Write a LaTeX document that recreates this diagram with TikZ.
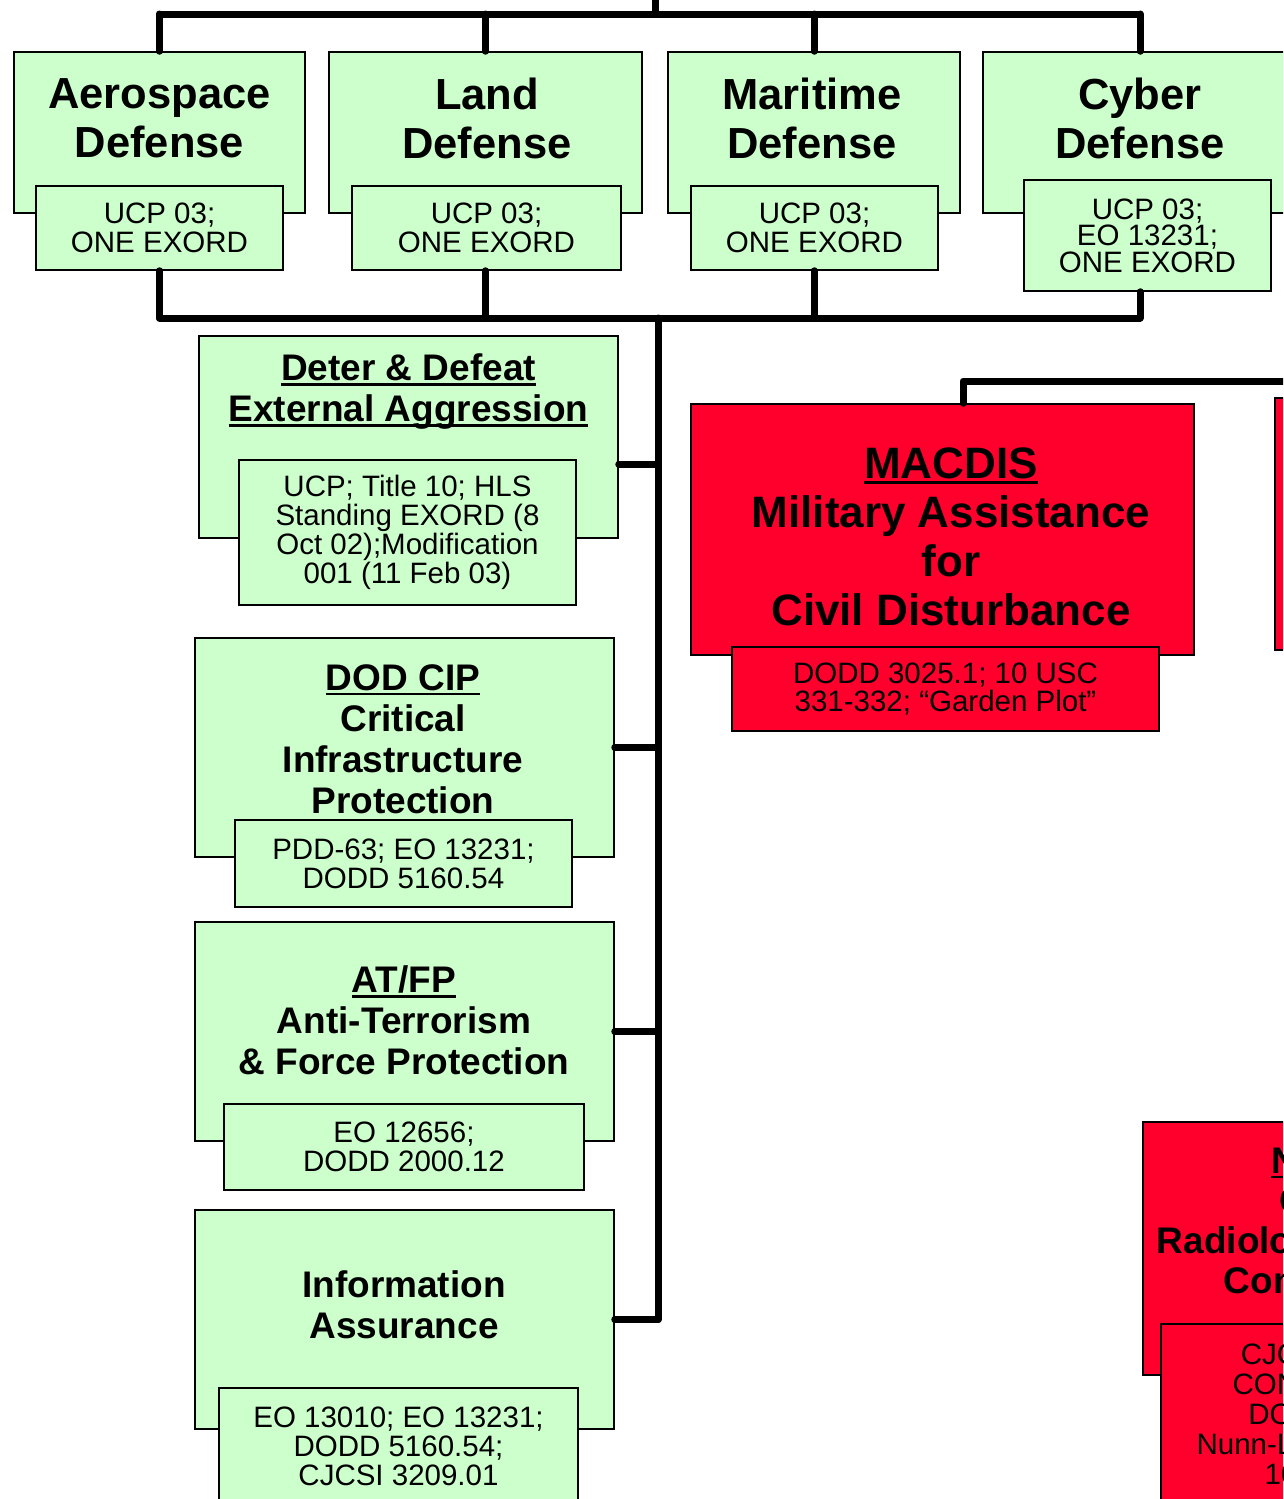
\documentclass[tikz,border=0pt]{standalone}
\usepackage{fontspec}
\setmainfont{Liberation Sans}
\usetikzlibrary{positioning}
\definecolor{hdGreen}{RGB}{204,255,204}
\definecolor{csRed}{RGB}{255,0,45}
\newsavebox\hdUnderBox
\newcommand{\hdUnder}[1]{\sbox\hdUnderBox{#1}\rlap{\rule[-5pt]{\wd\hdUnderBox}{2.5pt}}\usebox\hdUnderBox}
\tikzstyle{greenBox} = [shape=rectangle, draw=black, line width=1.5pt, fill=hdGreen,
	inner sep=0pt, align=center]
\tikzstyle{redBox} = [greenBox, fill=csRed]
\tikzstyle{bigTitle} = [align=center, inner sep=0pt, font=\bfseries\fontsize{43.5}{49}\selectfont]
\tikzstyle{colTitle} = [align=center, inner sep=0pt, font=\bfseries\fontsize{37}{41}\selectfont]
\tikzstyle{lawText} = [font=\fontsize{29.5}{29}\selectfont]
\tikzstyle{busLine} = [line width=7pt, line cap=round, line join=round, draw=black]

\begin{document}
\begin{tikzpicture}[x=1pt, y=-1pt]
  \useasboundingbox (0,0) rectangle (1283,1499);
  \clip (0,0) rectangle (1283,1499);

  % top row
  \node (aero) at (159.5,132.5) [greenBox, minimum width=291pt, minimum height=161pt] {};
  \node (aeroText) at (159.5,118) [bigTitle] {Aerospace\\Defense};
  \node (aero-law) at (159.5,228) [greenBox, lawText, minimum width=247pt, minimum height=84pt] {UCP 03;\\ONE EXORD};

  \node (land) at (485.5,132.5) [greenBox, minimum width=313pt, minimum height=161pt] {};
  \node (landText) at (487,118) [bigTitle] {Land\\Defense};
  \node (land-law) at (486.5,228) [greenBox, lawText, minimum width=269pt, minimum height=84pt] {UCP 03;\\ONE EXORD};

  \node (mari) at (814,132.5) [greenBox, minimum width=292pt, minimum height=161pt] {};
  \node (mariText) at (812,118) [bigTitle] {Maritime\\Defense};
  \node (mari-law) at (814.5,228) [greenBox, lawText, minimum width=247pt, minimum height=84pt] {UCP 03;\\ONE EXORD};

  \node (cyber) at (1140,132.5) [greenBox, minimum width=314pt, minimum height=161pt] {};
  \node (cyberText) at (1140,118) [bigTitle] {Cyber\\Defense};
  \node (cyber-law) at (1147.5,235.5) [greenBox, minimum width=247pt, minimum height=111pt,
    font=\fontsize{29.5}{26.5}\selectfont] {UCP 03;\\EO 13231;\\ONE EXORD};

  % left column
  \node (deter) at (408.5,437) [greenBox, minimum width=419pt, minimum height=202pt] {};
  \node (deterText) at (408.5,392) [colTitle] {\hdUnder{Deter \& Defeat}\\\hdUnder{External Aggression}};
  \node (deter-law) at (407.5,532.5) [greenBox, lawText, minimum width=337pt, minimum height=145pt]
    {UCP; Title 10; HLS\\Standing EXORD (8\\Oct 02);Modification\\001 (11 Feb 03)};

  \node (cip) at (404.5,747.5) [greenBox, minimum width=419pt, minimum height=219pt] {};
  \node (cipText) at (403,739) [colTitle] {\hdUnder{DOD CIP}\\Critical\\Infrastructure\\Protection};
  \node (cip-law) at (403.5,863.5) [greenBox, lawText, minimum width=337pt, minimum height=87pt]
    {PDD-63; EO 13231;\\DODD 5160.54};

  \node (atfp) at (404.5,1031.5) [greenBox, minimum width=419pt, minimum height=219pt] {};
  \node (atfpText) at (404,1020.5) [colTitle] {\hdUnder{AT/FP}\\Anti-Terrorism\\\& Force Protection};
  \node (atfp-law) at (404,1147) [greenBox, lawText, minimum width=360pt, minimum height=86pt]
    {EO 12656;\\DODD 2000.12};

  \node (infoAs) at (404.5,1319.5) [greenBox, minimum width=419pt, minimum height=219pt] {};
  \node (infoAsText) at (404,1305) [colTitle] {Information\\Assurance};
  \node (infoAs-law) at (398.5,1446) [greenBox, lawText, minimum width=359pt, minimum height=116pt]
    {EO 13010; EO 13231;\\DODD 5160.54;\\CJCSI 3209.01};

  % red boxes
  \node (macdis) at (942.5,529.5) [redBox, minimum width=503pt, minimum height=251pt] {};
  \node (macdisText) at (951,537) [bigTitle, font=\bfseries\fontsize{44}{49}\selectfont]
    {\hdUnder{MACDIS}\\Military Assistance\\for\\Civil Disturbance};
  \node (macdis-law) at (945.5,689) [redBox, minimum width=427pt, minimum height=84pt,
    font=\fontsize{29.5}{28}\selectfont] {DODD 3025.1; 10 USC\\331-332; “Garden Plot”};

  \node (redTop) at (1526.5,524) [redBox, minimum width=503pt, minimum height=252pt] {};

  \node (cbrne) at (1345,1248.5) [redBox, minimum width=404pt, minimum height=253pt] {};
  \node (cbrneText) at (1345,1224) [colTitle, font=\bfseries\fontsize{37}{40}\selectfont]
    {\hdUnder{NBC CM}\\CBRNE\\Radiological, Nuclear\\Consequence};
  \node (cbrne-law) at (1345,1414) [redBox, minimum width=368pt, minimum height=180pt,
    font=\fontsize{29.5}{30}\selectfont]
    {CJCSI 3125.01;\\CONPLAN 0500;\\DODD 3025.1;\\Nunn-Lugar-Domenici;\\10 USC 382};

  % buses
  \coordinate (hdParent) at (655,-10);
  \coordinate (topBus) at (655,14);
  \coordinate (midBus) at (658,318);
  \coordinate (redBus) at (963,381);

  \draw[busLine] (hdParent) -- (topBus);
  \draw[busLine] (aero.north |- topBus) -- (cyber.north |- topBus);
  \foreach \n in {aero,land,mari,cyber}
    \draw[busLine] (\n.north) -- (\n.north |- topBus);
  \foreach \n in {aero,land,mari,cyber}
    \draw[busLine] (\n.north |- \n-law.south) -- (\n.north |- midBus);
  \draw[busLine] (aero.north |- midBus) -- (cyber.north |- midBus);
  \draw[busLine] (midBus) -- (midBus |- infoAs.east);
  \draw[busLine] ([yshift=-27pt]deter.east) -- ([yshift=-27pt]deter.east -| midBus);
  \foreach \n in {cip,atfp,infoAs}
    \draw[busLine] (\n.east) -- (\n.east -| midBus);
  \draw[busLine] (macdis.north -| redBus) -- (redBus) -- (redBus -| redTop.north) -- (redTop.north);
\end{tikzpicture}
\end{document}
